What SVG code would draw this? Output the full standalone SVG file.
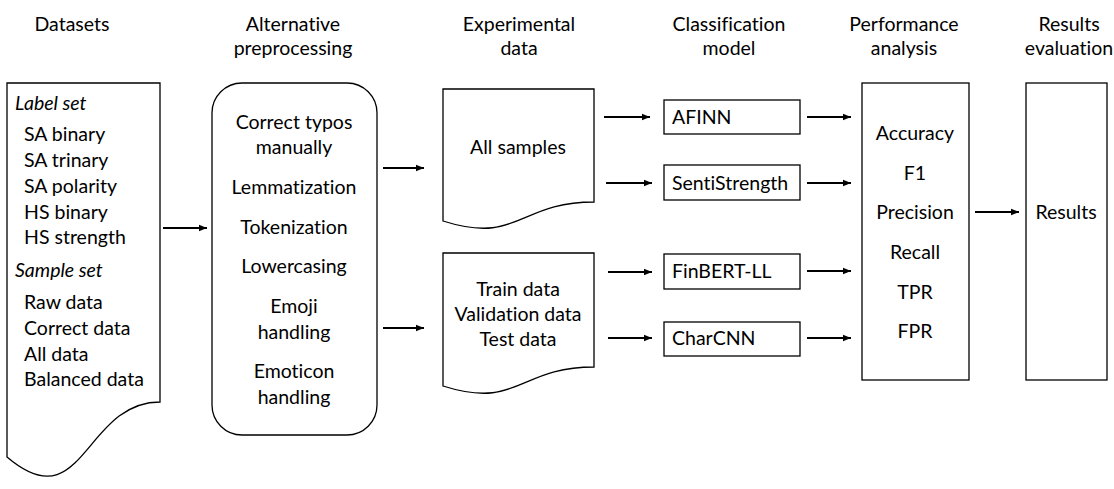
<svg xmlns="http://www.w3.org/2000/svg" width="1114" height="489" viewBox="0 0 1114 489">
<style>
text{font-family:Lato,"Open Sans","Liberation Sans",sans-serif;font-size:19.5px;fill:#000;font-variant-ligatures:none}
.c{text-anchor:middle}
.i{font-style:italic}
.box{fill:#fff;stroke:#000;stroke-width:1.3}
.ar{stroke:#000;stroke-width:2;fill:none;marker-end:url(#ah)}
</style>
<defs>
<marker id="ah" viewBox="0 0 10 10" refX="10" refY="5" markerWidth="4" markerHeight="4" orient="auto" markerUnits="strokeWidth">
<path d="M0,1 L10,5 L0,9 Z" fill="#000"/>
</marker>
</defs>
<rect width="1114" height="489" fill="#fff"/>
<g id="headers">
<text class="c" x="72" y="31">Datasets</text>
<text class="c" x="293" y="31">Alternative</text>
<text class="c" x="293" y="55">preprocessing</text>
<text class="c" x="519" y="31">Experimental</text>
<text class="c" x="519" y="55">data</text>
<text class="c" x="729" y="31">Classification</text>
<text class="c" x="729" y="55">model</text>
<text class="c" x="904" y="31">Performance</text>
<text class="c" x="904" y="55">analysis</text>
<text class="c" x="1069" y="31">Results</text>
<text class="c" x="1069" y="55">evaluation</text>
</g>
<g id="datasets">
<path class="box" d="M7,83 L160,83 L160,402 C83.5,402 83.5,522 7,457 Z"/>
<text class="i" x="15" y="110">Label set</text>
<text x="24" y="141">SA binary</text>
<text x="24" y="167">SA trinary</text>
<text x="24" y="193">SA polarity</text>
<text x="24" y="219">HS binary</text>
<text x="24" y="244">HS strength</text>
<text class="i" x="15" y="277">Sample set</text>
<text x="24" y="309">Raw data</text>
<text x="24" y="335">Correct data</text>
<text x="24" y="361">All data</text>
<text x="24" y="386">Balanced data</text>
</g>
<g id="preprocessing">
<rect class="box" x="212" y="83" width="165" height="352" rx="30" ry="30"/>
<text class="c" x="294" y="129">Correct typos</text>
<text class="c" x="294" y="154">manually</text>
<text class="c" x="294" y="194">Lemmatization</text>
<text class="c" x="294" y="234">Tokenization</text>
<text class="c" x="294" y="273">Lowercasing</text>
<text class="c" x="294" y="313">Emoji</text>
<text class="c" x="294" y="339">handling</text>
<text class="c" x="294" y="378">Emoticon</text>
<text class="c" x="294" y="404">handling</text>
</g>
<g id="exp-all">
<path class="box" d="M443,89 L594,89 L594,202 C518.5,202 518.5,245 443,221 Z"/>
<text class="c" x="518" y="154">All samples</text>
</g>
<g id="exp-split">
<path class="box" d="M443,253 L594,253 L594,367 C518.5,367 518.5,410 443,386 Z"/>
<text class="c" x="518" y="296">Train data</text>
<text class="c" x="518" y="321">Validation data</text>
<text class="c" x="518" y="346">Test data</text>
</g>
<g id="afinn">
<rect class="box" x="664" y="100" width="136" height="34"/>
<text x="672" y="124">AFINN</text>
</g>
<g id="sentistrength">
<rect class="box" x="664" y="165" width="136" height="35"/>
<text x="672" y="190">SentiStrength</text>
</g>
<g id="finbert">
<rect class="box" x="664" y="254" width="136" height="35"/>
<text x="672" y="278">FinBERT-LL</text>
</g>
<g id="charcnn">
<rect class="box" x="664" y="322" width="136" height="34"/>
<text x="672" y="345">CharCNN</text>
</g>
<g id="performance">
<rect class="box" x="862" y="83" width="107" height="297"/>
<text class="c" x="915" y="140">Accuracy</text>
<text class="c" x="915" y="180">F1</text>
<text class="c" x="915" y="219">Precision</text>
<text class="c" x="915" y="259">Recall</text>
<text class="c" x="915" y="299">TPR</text>
<text class="c" x="915" y="338">FPR</text>
</g>
<g id="results">
<rect class="box" x="1026" y="83" width="81" height="297"/>
<text class="c" x="1066" y="219">Results</text>
</g>
<g id="connectors">
<line class="ar" x1="163" y1="228" x2="207" y2="228"/>
<line class="ar" x1="383" y1="168" x2="424" y2="168"/>
<line class="ar" x1="383" y1="328" x2="424" y2="328"/>
<line class="ar" x1="604" y1="117" x2="650" y2="117"/>
<line class="ar" x1="606" y1="183" x2="652" y2="183"/>
<line class="ar" x1="608" y1="272" x2="652" y2="272"/>
<line class="ar" x1="608" y1="338" x2="652" y2="338"/>
<line class="ar" x1="807" y1="117" x2="851" y2="117"/>
<line class="ar" x1="807" y1="183" x2="851" y2="183"/>
<line class="ar" x1="807" y1="271" x2="851" y2="271"/>
<line class="ar" x1="807" y1="338" x2="851" y2="338"/>
<line class="ar" x1="975" y1="212" x2="1019" y2="212"/>
</g>
</svg>
